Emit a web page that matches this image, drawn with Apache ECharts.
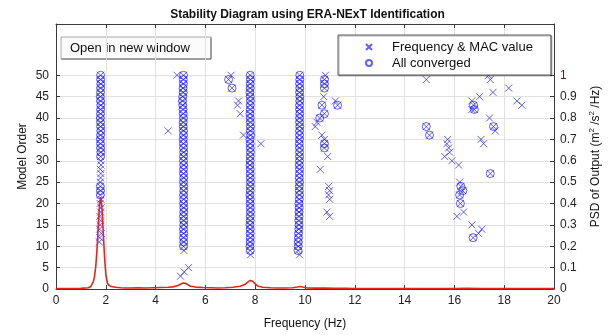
<!DOCTYPE html>
<html>
<head>
<meta charset="utf-8">
<title>Stability Diagram</title>
<script src="https://cdn.jsdelivr.net/npm/echarts@6/dist/echarts.min.js"></script>
<style>
  html, body { margin: 0; padding: 0; background: #ffffff; }
  #chart { width: 615px; height: 335px; }
</style>
</head>
<body>
<div id="chart"></div>
<script>
// ---- axis ticks ----
const freqTicks = [0, 2, 4, 6, 8, 10, 12, 14, 16, 18, 20];
const orderTicks = [0, 5, 10, 15, 20, 25, 30, 35, 40, 45, 50];
const psdTicks = [0, 0.1, 0.2, 0.3, 0.4, 0.5, 0.6, 0.7, 0.8, 0.9, 1];

// ---- PSD of the measured output (right axis) ----
const psdFreq = [0, 0.5, 1.0, 1.3, 1.4, 1.5, 1.55, 1.6, 1.65, 1.7, 1.75, 1.8, 1.85, 1.9, 1.95, 2.0, 2.05, 2.1, 2.2, 2.4,
  2.6, 2.8, 3.0, 3.3, 3.6, 3.9, 4.2, 4.5, 4.7, 4.9, 5.0, 5.1, 5.2, 5.3, 5.4, 5.6, 5.9, 6.2, 6.5, 6.8,
  7.1, 7.4, 7.6, 7.7, 7.8, 7.9, 8.0, 8.1, 8.3, 8.6, 8.9, 9.2, 9.5, 9.7, 9.8, 9.9, 10.1, 10.4, 10.8, 11.2,
  11.6, 12, 13, 14, 15, 16, 16.5, 17, 18, 19, 20];
const psdValue = [0.002, 0.002, 0.003, 0.006, 0.012, 0.035, 0.06, 0.11, 0.19, 0.30, 0.40, 0.43, 0.37, 0.26, 0.15, 0.07, 0.035, 0.02, 0.012, 0.008,
  0.006, 0.005, 0.005, 0.006, 0.005, 0.006, 0.007, 0.008, 0.010, 0.016, 0.022, 0.028, 0.027, 0.020, 0.013, 0.009, 0.007, 0.006, 0.005, 0.006,
  0.008, 0.013, 0.022, 0.032, 0.040, 0.036, 0.024, 0.014, 0.008, 0.006, 0.005, 0.005, 0.006, 0.009, 0.012, 0.009, 0.005, 0.004, 0.004, 0.003,
  0.003, 0.002, 0.002, 0.002, 0.002, 0.002, 0.003, 0.002, 0.002, 0.002, 0.002];

// ---- identified poles: model orders of the dense columns ----
const modelOrders = [50, 49, 48, 47, 46, 45, 44, 43, 42, 41, 40, 39, 38, 37, 36, 35, 34, 33, 32, 31,
  30, 29, 28, 27, 26, 25, 24, 23, 22, 21, 20, 19, 18, 17, 16, 15, 14, 13, 12, 11, 10, 9, 8];

// mode near 1.8 Hz (frequency per model order, 1 = all converged)
const col1Freq = [1.79, 1.79, 1.80, 1.79, 1.79, 1.78, 1.79, 1.80, 1.79, 1.79, 1.78, 1.79, 1.79, 1.80, 1.79, 1.78, 1.79, 1.79, 1.80, 1.79,
  1.80, 1.81, 1.78, 1.80, 1.79, 1.78, 1.78, 1.79, 1.78, 1.80, 1.77, 1.81, 1.79, 1.76, 1.80, 1.78, 1.75, 1.82, 1.76, 1.74, null, null, null];
const col1Stable = [1, 1, 1, 1, 1, 1, 1, 1, 1, 1, 1, 1, 1, 1, 1, 1, 1, 1, 1, 1,
  0, 0, 0, 0, 0, 0, 1, 1, 1, 0, 0, 0, 0, 0, 0, 0, 0, 0, 0, 0, 0, 0, 0];

// mode near 5.1 Hz
const col2Freq = [5.12, 5.11, 5.12, 5.10, 5.11, 5.09, 5.08, 5.09, 5.10, 5.11, 5.12, 5.11, 5.11, 5.12, 5.12, 5.11, 5.12, 5.12, 5.13, 5.12,
  5.12, 5.13, 5.12, 5.12, 5.13, 5.12, 5.13, 5.13, 5.12, 5.13, 5.12, 5.13, 5.13, 5.12, 5.13, 5.13, 5.12, 5.13, 5.12, 5.13, 5.12, 5.14, null];
const col2Stable = [1, 1, 1, 1, 1, 1, 1, 1, 1, 1, 1, 1, 1, 1, 1, 1, 1, 1, 1, 1,
  1, 1, 1, 1, 1, 1, 1, 1, 1, 1, 1, 1, 1, 1, 1, 1, 1, 1, 1, 1, 1, 0, 0];

// mode near 7.8 Hz
const col3Freq = [7.80, 7.81, 7.80, 7.80, 7.79, 7.80, 7.81, 7.80, 7.80, 7.79, 7.80, 7.80, 7.81, 7.80, 7.82, 7.79, 7.80, 7.80, 7.81, 7.80,
  7.80, 7.79, 7.80, 7.80, 7.80, 7.81, 7.80, 7.80, 7.79, 7.80, 7.80, 7.80, 7.81, 7.80, 7.80, 7.79, 7.80, 7.80, 7.80, 7.80, 7.79, 7.80, 7.81];
const col3Stable = [1, 1, 1, 1, 1, 1, 1, 1, 1, 1, 1, 1, 1, 1, 1, 1, 1, 1, 1, 1,
  1, 1, 1, 1, 1, 1, 1, 1, 1, 1, 1, 1, 1, 1, 1, 1, 1, 1, 1, 1, 1, 1, 0];

// mode near 9.8 Hz
const col4Freq = [9.79, 9.79, 9.78, 9.79, 9.78, 9.79, 9.79, 9.78, 9.78, 9.79, 9.78, 9.78, 9.79, 9.78, 9.78, 9.78, 9.77, 9.78, 9.78, 9.78,
  9.78, 9.77, 9.78, 9.78, 9.77, 9.78, 9.77, 9.77, 9.78, 9.77, 9.76, 9.77, 9.76, 9.76, 9.75, 9.76, 9.75, 9.74, 9.74, 9.73, 9.73, 9.72, 9.78];
const col4Stable = [1, 1, 1, 1, 1, 1, 1, 1, 1, 1, 1, 1, 1, 1, 1, 1, 1, 1, 1, 1,
  1, 1, 1, 1, 1, 1, 1, 1, 1, 1, 1, 1, 1, 1, 1, 1, 1, 1, 1, 1, 1, 1, 0];

// isolated poles [frequency, model order] that did not converge
const loosePoles = [
  [4.86, 50], [4.50, 37], [5.00, 3], [5.15, 4], [5.32, 5],
  [7.03, 50], [7.33, 44], [7.29, 43], [7.40, 41], [7.53, 36], [8.23, 34],
  [10.82, 50], [10.75, 45], [10.48, 39], [10.41, 38], [10.68, 36], [10.78, 35], [10.91, 31], [10.61, 28],
  [10.95, 24], [10.99, 23], [10.95, 22], [10.99, 21], [10.88, 18], [10.99, 17], [11.22, 44],
  [14.87, 49], [17.37, 50], [17.44, 49], [18.18, 47], [17.55, 46], [17.01, 45], [16.70, 44], [16.70, 42],
  [18.51, 44], [18.71, 43], [17.41, 40], [17.64, 37], [17.07, 35], [17.17, 34],
  [15.73, 35], [15.70, 34], [15.77, 33], [15.81, 32], [15.61, 31], [15.90, 30], [16.17, 29],
  [16.21, 25], [16.37, 18], [16.10, 17], [16.70, 15], [17.10, 14], [16.97, 13]
];

// isolated poles [frequency, model order] that converged
const looseStable = [
  [6.93, 49], [7.07, 47],
  [10.78, 49], [10.78, 48], [10.78, 47], [10.68, 43], [10.78, 41], [10.59, 40], [10.78, 34], [10.78, 33], [11.31, 43],
  [14.87, 38], [15.00, 36], [16.77, 43], [16.80, 42], [17.57, 38], [17.44, 27],
  [16.26, 24], [16.34, 23], [16.21, 22], [16.24, 20], [16.75, 12]
];

// ---- assemble scatter data from the arrays above ----
const columns = [
  [col1Freq, col1Stable], [col2Freq, col2Stable], [col3Freq, col3Stable], [col4Freq, col4Stable]
];
const allPoles = [];
const convergedPoles = [];
columns.forEach(([freqs, stable]) => {
  freqs.forEach((f, i) => {
    if (f === null) return;
    allPoles.push([f, modelOrders[i]]);
    if (stable[i]) convergedPoles.push([f, modelOrders[i]]);
  });
});
loosePoles.forEach(p => allPoles.push(p));
looseStable.forEach(p => { allPoles.push(p); convergedPoles.push(p); });

const psdData = psdFreq.map((f, i) => [f, psdValue[i]]);

const markerBlue = 'rgba(30, 30, 245, 0.88)';
const frameColor = '#3a3a3a';
const gridColor = '#e2e2e2';
const font = '"Liberation Sans", Arial, sans-serif';

const chart = echarts.init(document.getElementById('chart'), null, { renderer: 'canvas' });

chart.setOption({
  animation: false,
  backgroundColor: '#ffffff',
  textStyle: { fontFamily: font },
  title: {
    text: 'Stability Diagram using ERA-NExT Identification',
    left: 'center',
    top: 4,
    textStyle: { fontFamily: font, fontSize: 12, fontWeight: 'bold', color: '#111' }
  },
  grid: { left: 56, right: 61, top: 24, bottom: 45, containLabel: false },
  legend: {
    orient: 'vertical',
    left: 338,
    top: 35,
    padding: [4, 18, 4, 27],
    itemGap: 0,
    itemWidth: 6,
    itemHeight: 6,
    backgroundColor: '#ffffff',
    borderColor: '#5a5a5a',
    borderWidth: 1,
    shadowColor: 'rgba(0,0,0,0.3)',
    shadowOffsetX: 1,
    shadowOffsetY: 1,
    textStyle: { fontFamily: font, fontSize: 13, color: '#111', lineHeight: 16, padding: [0, 0, 0, 15] },
    data: ['Frequency & MAC value', 'All converged']
  },
  xAxis: [
    {
      type: 'value', min: 0, max: 20, interval: 2,
      name: 'Frequency (Hz)', nameLocation: 'middle', nameGap: 29, nameMoveOverlap: false,
      nameTextStyle: { fontFamily: font, fontSize: 12, color: '#111' },
      axisLine: { show: true, onZero: false, lineStyle: { color: frameColor, width: 1 } },
      axisTick: { show: true, inside: true, length: 4, customValues: freqTicks, lineStyle: { color: frameColor } },
      axisLabel: { customValues: freqTicks, margin: 6, fontFamily: font, fontSize: 12, color: '#222' },
      splitLine: { show: true, lineStyle: { color: gridColor, width: 1 } }
    },
    {
      type: 'value', min: 0, max: 20, interval: 2, position: 'top',
      axisLine: { show: true, onZero: false, lineStyle: { color: frameColor, width: 1 } },
      axisTick: { show: true, inside: true, length: 4, customValues: freqTicks, lineStyle: { color: frameColor } },
      axisLabel: { show: false },
      splitLine: { show: false }
    }
  ],
  yAxis: [
    {
      type: 'value', min: 0, max: 62, interval: 5,
      name: 'Model Order', nameLocation: 'middle', nameGap: 27, nameRotate: 90, nameMoveOverlap: false,
      nameTextStyle: { fontFamily: font, fontSize: 12, color: '#111' },
      axisLine: { show: true, onZero: false, lineStyle: { color: frameColor, width: 1 } },
      axisTick: { show: true, inside: true, length: 4, customValues: orderTicks, lineStyle: { color: frameColor } },
      axisLabel: { customValues: orderTicks, margin: 7, fontFamily: font, fontSize: 12, color: '#222' },
      splitLine: { show: true, lineStyle: { color: gridColor, width: 1 } }
    },
    {
      type: 'value', min: 0, max: 1.24, position: 'right',
      name: 'PSD of Output (m{sup|2} /s{sup|2} /Hz)', nameLocation: 'middle', nameGap: 34, nameRotate: 90,
      nameTextStyle: {
        fontFamily: font, fontSize: 12, color: '#111', lineHeight: 16,
        rich: { sup: { fontFamily: font, fontSize: 8, lineHeight: 16, verticalAlign: 'top', padding: [0, 0, 6, 0] } }
      },
      axisLine: { show: true, onZero: false, lineStyle: { color: frameColor, width: 1 } },
      axisTick: { show: true, inside: true, length: 4, customValues: psdTicks, lineStyle: { color: frameColor } },
      axisLabel: {
        customValues: psdTicks, margin: 6, fontFamily: font, fontSize: 12, color: '#222',
        formatter: v => (v === 1 ? '{top|1}' : String(v)),
        rich: { top: { color: '#5a145a', fontFamily: font, fontSize: 12 } }
      },
      splitLine: { show: false }
    }
  ],
  graphic: [
    {
      type: 'group',
      left: 59,
      top: 35,
      children: [
        { type: 'rect', shape: { x: 0, y: 0, width: 150, height: 22 },
          style: { fill: '#fbfbfb', stroke: '#a8a8a8', lineWidth: 1 } },
        { type: 'line', shape: { x1: 0.5, y1: 22, x2: 150, y2: 22 }, style: { stroke: '#6a6a6a', lineWidth: 1 } },
        { type: 'line', shape: { x1: 150, y1: 0.5, x2: 150, y2: 22 }, style: { stroke: '#6a6a6a', lineWidth: 1 } },
        { type: 'text', x: 9, y: 11,
          style: { text: 'Open in new window', fontFamily: font, fontSize: 13, fill: '#111', verticalAlign: 'middle' } }
      ]
    }
  ],
  series: [
    {
      name: 'Frequency & MAC value',
      type: 'scatter',
      xAxisIndex: 0, yAxisIndex: 0,
      symbol: 'path://M0,0L10,10M10,0L0,10',
      symbolSize: 7,
      itemStyle: { color: 'rgba(0,0,0,0)', borderColor: markerBlue, borderWidth: 1 },
      data: allPoles,
      z: 2
    },
    {
      name: 'All converged',
      type: 'scatter',
      xAxisIndex: 0, yAxisIndex: 0,
      symbol: 'circle',
      symbolSize: 8,
      itemStyle: { color: 'rgba(0,0,0,0)', borderColor: markerBlue, borderWidth: 1 },
      data: convergedPoles,
      z: 3
    },
    {
      name: 'PSD',
      type: 'line',
      xAxisIndex: 0, yAxisIndex: 1,
      showSymbol: false,
      symbol: 'none',
      lineStyle: { color: '#e3261b', width: 1.6 },
      data: psdData,
      z: 4
    }
  ]
});
</script>
</body>
</html>
